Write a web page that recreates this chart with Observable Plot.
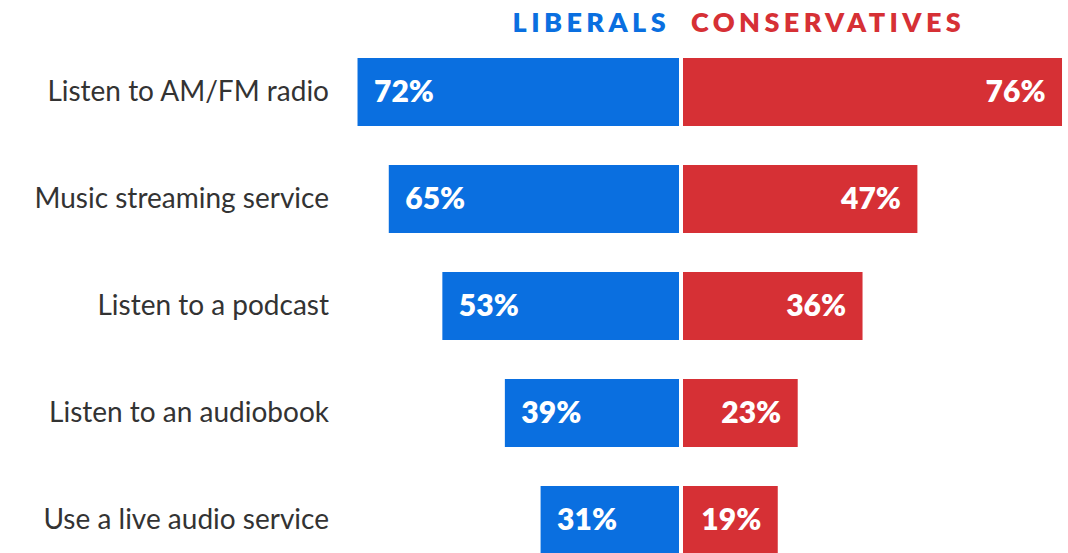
<!DOCTYPE html>
<html>
<head>
<meta charset="utf-8">
<script src="https://cdn.jsdelivr.net/npm/d3@7"></script>
<script src="https://cdn.jsdelivr.net/npm/@observablehq/plot@0.6"></script>
<style>
  html, body { margin: 0; padding: 0; background: #fff; overflow: hidden; }
  #wrap { position: relative; width: 1068px; height: 553px; font-family: Lato, "Noto Sans", sans-serif; }
  .hdr { position: absolute; top: 6px; font-weight: 800; font-size: 27px; letter-spacing: 4.4px; line-height: 32px; }
  #lib { right: calc(1068px - 670px); color: #0A6FE0; }
  #con { left: 691px; color: #D63035; }
  #left, #right { position: absolute; top: 0; }
  #left { left: 0; }
  #right { left: 681px; }
</style>
</head>
<body>
<div id="wrap">
  <div class="hdr" id="lib">LIBERALS</div>
  <div class="hdr" id="con">CONSERVATIVES</div>
  <div id="left"></div>
  <div id="right"></div>
</div>
<script>
const categories = [
  "Listen to AM/FM radio",
  "Music streaming service",
  "Listen to a podcast",
  "Listen to an audiobook",
  "Use a live audio service"
];
const liberals = [72, 65, 53, 39, 31];
const conservatives = [76, 47, 36, 23, 19];

const blue = "#0A6FE0";
const red = "#D63035";
const font = "Lato, 'Noto Sans', sans-serif";

const libData = categories.map((c, i) => ({category: c, value: liberals[i]}));
const conData = categories.map((c, i) => ({category: c, value: conservatives[i]}));

const yOpts = {domain: categories, padding: 0.36, paddingOuter: 0, axis: null};

const left = Plot.plot({
  width: 681,
  height: 556,
  marginTop: 56,
  marginBottom: 0,
  marginLeft: 232.5,
  marginRight: 2,
  style: {fontFamily: font, background: "transparent", overflow: "visible"},
  x: {domain: [100, 0], axis: null},
  y: yOpts,
  marks: [
    Plot.barX(libData, {x: "value", y: "category", fill: blue}),
    Plot.text(libData, {
      x: "value", y: "category", text: d => d.value + "%",
      textAnchor: "start", dx: 16, fill: "white",
      fontSize: 30, fontWeight: 800, fontFamily: font
    }),
    Plot.text(libData, {
      y: "category", text: "category", frameAnchor: "left",
      textAnchor: "end", dx: 96, fill: "#333",
      fontSize: 28, fontFamily: font
    })
  ]
});

const right = Plot.plot({
  width: 387,
  height: 556,
  marginTop: 56,
  marginBottom: 0,
  marginLeft: 2,
  marginRight: 1,
  style: {fontFamily: font, background: "transparent", overflow: "visible"},
  x: {domain: [0, 77], axis: null},
  y: yOpts,
  marks: [
    Plot.barX(conData, {x: "value", y: "category", fill: red}),
    Plot.text(conData, {
      x: "value", y: "category", text: d => d.value + "%",
      textAnchor: "end", dx: -17, fill: "white",
      fontSize: 30, fontWeight: 800, fontFamily: font
    })
  ]
});

document.getElementById("left").appendChild(left);
document.getElementById("right").appendChild(right);
</script>
</body>
</html>
